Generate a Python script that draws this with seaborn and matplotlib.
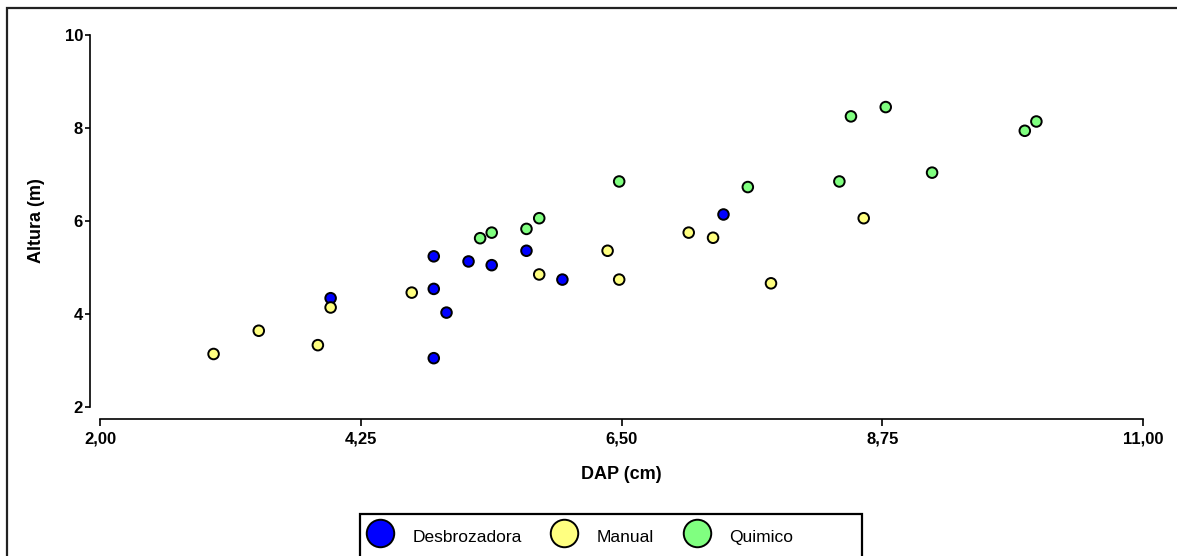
import matplotlib
matplotlib.use("Agg")
import matplotlib.pyplot as plt
import matplotlib.patches as mpatches
import pandas as pd
import seaborn as sns

sns.set_style("ticks")
plt.rcParams["font.family"] = ["Liberation Sans", "DejaVu Sans"]
plt.rcParams["text.color"] = "black"
plt.rcParams["axes.labelcolor"] = "black"
plt.rcParams["xtick.color"] = "black"
plt.rcParams["ytick.color"] = "black"

# Valores (DAP en cm, altura en m)
desbro_dap = [3.99, 4.88, 4.88, 4.88, 4.99, 5.18, 5.38, 5.68, 5.99, 7.38]
desbro_alt = [4.34, 5.24, 4.54, 3.05, 4.03, 5.13, 5.05, 5.36, 4.74, 6.14]

manual_dap = [2.98, 3.37, 3.88, 3.99, 4.69, 5.79, 6.38, 6.48, 7.08, 7.29, 7.79, 8.59]
manual_alt = [3.14, 3.64, 3.33, 4.14, 4.46, 4.85, 5.36, 4.74, 5.75, 5.64, 4.66, 6.06]

quimico_dap = [5.28, 5.38, 5.68, 5.79, 6.48, 7.59, 8.38, 8.48, 8.78, 9.18, 9.98, 10.08]
quimico_alt = [5.63, 5.75, 5.83, 6.06, 6.85, 6.73, 6.85, 8.25, 8.45, 7.04, 7.94, 8.14]

tratamientos = ["Desbrozadora", "Manual", "Quimico"]
colores = ["#0000FF", "#FFFF80", "#80FF80"]

x_ticks = [2.0, 4.25, 6.5, 8.75, 11.0]
y_ticks = [2, 4, 6, 8, 10]

df = pd.concat([
    pd.DataFrame({"DAP": desbro_dap, "Altura": desbro_alt, "Tratamiento": "Desbrozadora"}),
    pd.DataFrame({"DAP": manual_dap, "Altura": manual_alt, "Tratamiento": "Manual"}),
    pd.DataFrame({"DAP": quimico_dap, "Altura": quimico_alt, "Tratamiento": "Quimico"}),
], ignore_index=True)

fig = plt.figure(figsize=(11.77, 5.56), dpi=100)
ax = fig.add_axes([100 / 1177, 1 - 407 / 556, 1043 / 1177, 372 / 556])

sns.scatterplot(data=df, x="DAP", y="Altura", hue="Tratamiento", hue_order=tratamientos,
                palette=dict(zip(tratamientos, colores)), s=58, edgecolor="black",
                linewidth=1.4, ax=ax, zorder=3, clip_on=False)

sns.despine(ax=ax, offset={"left": 7.2, "bottom": 8.6})
for side in ["left", "bottom"]:
    ax.spines[side].set_linewidth(1.2)
    ax.spines[side].set_color("black")

ax.set_xlim(2, 11)
ax.set_ylim(2, 10)
ax.set_xticks(x_ticks)
ax.set_xticklabels(["{:.2f}".format(v).replace(".", ",") for v in x_ticks],
                   fontsize=12, fontweight="bold")
ax.set_yticks(y_ticks)
ax.set_yticklabels([str(v) for v in y_ticks], fontsize=12, fontweight="bold")
ax.tick_params(axis="x", length=5, width=1.2, pad=4)
ax.tick_params(axis="y", length=3.6, width=1.2, pad=1.5)

ax.set_xlabel("DAP (cm)", fontsize=13, fontweight="bold", labelpad=14)
ax.set_ylabel("Altura (m)", fontsize=13, fontweight="bold", labelpad=14)

# leyenda abajo, con marco fijo como en el original
sns.move_legend(ax, "upper left", bbox_to_anchor=(358 / 1177, 1 - 519 / 556),
                bbox_transform=fig.transFigure, ncol=3, title=None, frameon=False,
                markerscale=2.6, fontsize=12.5, handlelength=2.0, handleheight=2.0,
                handletextpad=0.88, columnspacing=1.45, borderpad=0.25, borderaxespad=0)
fig.add_artist(mpatches.Rectangle((360 / 1177, -0.05), 502 / 1177, 0.05 + 1 - 514 / 556,
                                  transform=fig.transFigure, fill=False,
                                  edgecolor="black", linewidth=1.6))

# marco exterior de la figura
fig.add_artist(mpatches.Rectangle((7 / 1177, -0.05), 1.1, 0.05 + 1 - 8 / 556,
                                  transform=fig.transFigure, fill=False,
                                  edgecolor="#222222", linewidth=1.6))

fig.savefig("out.png", dpi=100)
plt.close(fig)
